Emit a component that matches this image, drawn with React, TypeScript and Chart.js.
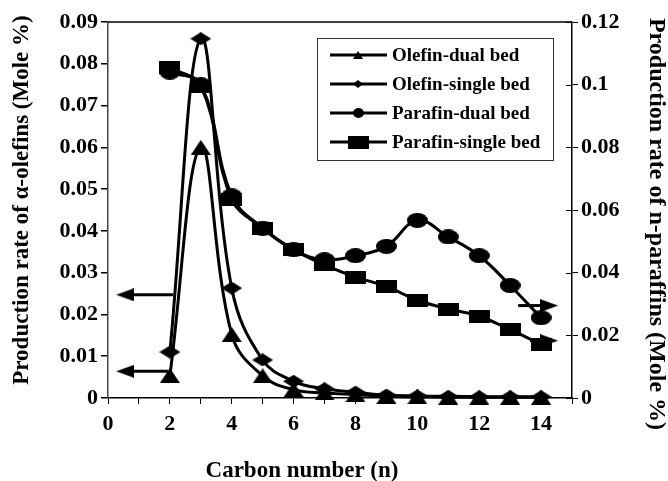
import React, { useEffect, useRef } from 'react';
import { Chart, registerables } from 'chart.js';

Chart.register(...registerables);

// ---- data ----
const carbonNumbers = [2, 3, 4, 5, 6, 7, 8, 9, 10, 11, 12, 13, 14];
const olefinDual = [0.0054, 0.06, 0.0152, 0.0053, 0.002, 0.0012, 0.0008, 0.0004, 0.0003, 0.0002, 0.0002, 0.0002, 0.0002];
const olefinSingle = [0.011, 0.086, 0.0263, 0.0091, 0.004, 0.0022, 0.0014, 0.0007, 0.0005, 0.0004, 0.0003, 0.0003, 0.0003];
const parafinDual = [0.104, 0.1, 0.0645, 0.0542, 0.0473, 0.0441, 0.0454, 0.0484, 0.0567, 0.0514, 0.0454, 0.0359, 0.0256];
const parafinSingle = [0.1055, 0.0995, 0.0635, 0.0542, 0.0473, 0.0425, 0.0386, 0.0356, 0.0312, 0.0284, 0.0261, 0.0218, 0.0171];

const seriesLabels = ['Olefin-dual bed', 'Olefin-single bed', 'Parafin-dual bed', 'Parafin-single bed'];

const leftTicks = [0, 0.01, 0.02, 0.03, 0.04, 0.05, 0.06, 0.07, 0.08, 0.09];
const rightTicks = [0, 0.02, 0.04, 0.06, 0.08, 0.1, 0.12];
const xTicks = [0, 1, 2, 3, 4, 5, 6, 7, 8, 9, 10, 11, 12, 13, 14, 15];
const xLabels = [0, 2, 4, 6, 8, 10, 12, 14];

// axis-indicator arrows: [x, y] pairs (head first)
const arrowLeftUpper = [[0.55, 0.0247], [2.1, 0.0247]];
const arrowLeftLower = [[0.55, 0.0064], [1.95, 0.0064]];
const arrowRightUpper = [[14.26, 0.0295], [13.26, 0.0295]];
const arrowRightLower = [[14.26, 0.0183], [13.64, 0.0183]];

const xTitle = 'Carbon number (n)';
const leftTitle = 'Production rate of \u03b1-olefins (Mole %)';
const rightTitle = 'Production rate of n-paraffins (Mole %)';

const FAMILY = '"Liberation Serif", "Times New Roman", serif';

function mk(w: number, h: number, draw: (g: CanvasRenderingContext2D, w: number, h: number) => void) {
  const c = document.createElement('canvas');
  c.width = w;
  c.height = h;
  const g = c.getContext('2d')!;
  g.fillStyle = '#000';
  draw(g, w, h);
  return c;
}
const tri = (w: number, h: number) => mk(w, h, (g) => { g.beginPath(); g.moveTo(w / 2, 0); g.lineTo(w, h); g.lineTo(0, h); g.closePath(); g.fill(); });
const dia = (w: number, h: number) => mk(w, h, (g) => { g.beginPath(); g.moveTo(w / 2, 0); g.lineTo(w, h / 2); g.lineTo(w / 2, h); g.lineTo(0, h / 2); g.closePath(); g.fill(); });
const ell = (w: number, h: number) => mk(w, h, (g) => { g.beginPath(); g.ellipse(w / 2, h / 2, w / 2, h / 2, 0, 0, Math.PI * 2); g.fill(); });
const sq = (w: number, h: number) => mk(w, h, (g) => { g.fillRect(0, 0, w, h); });
const headL = (w: number, h: number) => mk(w, h, (g) => { g.beginPath(); g.moveTo(0, h / 2); g.lineTo(w, 0); g.lineTo(w, h); g.closePath(); g.fill(); });
const headR = (w: number, h: number) => mk(w, h, (g) => { g.beginPath(); g.moveTo(w, h / 2); g.lineTo(0, 0); g.lineTo(0, h); g.closePath(); g.fill(); });

export default function App() {
  const ref = useRef<HTMLCanvasElement>(null);

  useEffect(() => {
    const canvas = ref.current!;
    const markers = [tri(20, 15), dia(21, 13), ell(21, 15), sq(21, 13)];
    const legendMarkers = [tri(10, 8), dia(10, 8), ell(11, 10), sq(21, 13)];
    const hl = headL(18, 13);
    const hr = headR(18, 13);

    const pts = (arr: number[]) => carbonNumbers.map((x, i) => ({ x, y: arr[i] }));
    const ap = (arr: number[][]) => arr.map(([x, y]) => ({ x, y }));

    const series = [olefinDual, olefinSingle, parafinDual, parafinSingle];
    const axes = ['y', 'y', 'y1', 'y1'];
    const dataSets: any[] = series.map((s, i) => ({
      label: seriesLabels[i],
      data: pts(s),
      yAxisID: axes[i],
      borderColor: '#000',
      backgroundColor: '#000',
      borderWidth: 3,
      tension: 0.4,
      pointStyle: markers[i],
      pointRadius: 6,
      clip: false,
      order: 3 - i,
    }));
    const arrows = [
      { d: arrowLeftUpper, ax: 'y', h: hl },
      { d: arrowLeftLower, ax: 'y', h: hl },
      { d: arrowRightUpper, ax: 'y1', h: hr },
      { d: arrowRightLower, ax: 'y1', h: hr },
    ];
    arrows.forEach((a) => {
      dataSets.push({
        label: '',
        data: ap(a.d),
        yAxisID: a.ax,
        borderColor: '#000',
        borderWidth: 3,
        tension: 0,
        pointStyle: a.h,
        pointRadius: [6, 0],
        clip: false,
        order: 10,
      });
    });

    const tickFont = { family: FAMILY, weight: 'bold' as const, size: 22 };

    const deco = {
      id: 'deco',
      afterDraw(chart: any) {
        const ctx: CanvasRenderingContext2D = chart.ctx;
        const a = chart.chartArea;
        ctx.save();
        // top frame
        ctx.strokeStyle = '#000';
        ctx.lineWidth = 1.5;
        ctx.beginPath();
        ctx.moveTo(a.left, a.top);
        ctx.lineTo(a.right, a.top);
        ctx.stroke();
        // inner halves of right-axis ticks
        ctx.lineWidth = 1;
        const y1 = chart.scales.y1;
        rightTicks.forEach((v) => {
          const py = Math.round(y1.getPixelForValue(v)) + 0.5;
          ctx.beginPath();
          ctx.moveTo(a.right - 6, py);
          ctx.lineTo(a.right, py);
          ctx.stroke();
        });
        // axis titles
        ctx.fillStyle = '#000';
        ctx.textAlign = 'center';
        ctx.textBaseline = 'alphabetic';
        ctx.font = `bold 23px ${FAMILY}`;
        ctx.fillText(xTitle, 302, 477);
        ctx.save();
        ctx.translate(22, 200);
        ctx.rotate(-Math.PI / 2);
        ctx.textBaseline = 'middle';
        ctx.font = `bold 23px ${FAMILY}`;
        ctx.fillText(leftTitle, 0, 0);
        ctx.restore();
        ctx.save();
        ctx.translate(656, 224);
        ctx.rotate(Math.PI / 2);
        ctx.textBaseline = 'middle';
        ctx.font = `bold 24px ${FAMILY}`;
        ctx.fillText(rightTitle, 0, 0);
        ctx.restore();
        // legend
        ctx.lineWidth = 1;
        ctx.strokeStyle = '#333';
        ctx.strokeRect(317.5, 38.5, 236, 122);
        const rows = [55, 84, 113, 142];
        ctx.font = `bold 19px ${FAMILY}`;
        ctx.textAlign = 'left';
        ctx.textBaseline = 'middle';
        rows.forEach((ry, i) => {
          ctx.strokeStyle = '#000';
          ctx.lineWidth = 3;
          ctx.beginPath();
          ctx.moveTo(330, ry);
          ctx.lineTo(387, ry);
          ctx.stroke();
          const m = legendMarkers[i];
          ctx.drawImage(m, Math.round(358 - m.width / 2), Math.round(ry - m.height / 2));
          ctx.fillText(chart.data.datasets[i].label, 392, ry + 1);
        });
        ctx.restore();
      },
    };

    const chart = new Chart(canvas, {
      type: 'line',
      data: { datasets: dataSets },
      options: {
        responsive: false,
        animation: false,
        devicePixelRatio: 1,
        layout: { padding: { top: 22, left: 0, right: 0, bottom: 0 } },
        plugins: { legend: { display: false }, tooltip: { enabled: false } },
        scales: {
          x: {
            type: 'linear',
            min: 0,
            max: 15,
            afterBuildTicks: (s: any) => { s.ticks = xTicks.map((v) => ({ value: v })); },
            afterFit: (s: any) => { s.height = 83; },
            ticks: {
              autoSkip: false,
              maxRotation: 0,
              color: '#000',
              font: tickFont,
              padding: 7,
              callback: (v: any) => (xLabels.includes(Number(v)) ? String(v) : ''),
            },
            grid: { drawOnChartArea: false, drawTicks: true, tickLength: 6, color: '#000', lineWidth: 1 },
            border: { display: true, color: '#000', width: 1.5 },
          },
          y: {
            position: 'left',
            min: 0,
            max: 0.09,
            afterBuildTicks: (s: any) => { s.ticks = leftTicks.map((v) => ({ value: v })); },
            afterFit: (s: any) => { s.width = 108; },
            ticks: { color: '#000', font: tickFont, padding: 3, callback: (v: any) => String(v) },
            grid: { drawOnChartArea: false, drawTicks: true, tickLength: 7, color: '#000', lineWidth: 1.5 },
            border: { display: true, color: '#444', width: 1.5 },
          },
          y1: {
            position: 'right',
            min: 0,
            max: 0.12,
            afterBuildTicks: (s: any) => { s.ticks = rightTicks.map((v) => ({ value: v })); },
            afterFit: (s: any) => { s.width = 96; },
            ticks: { color: '#000', font: tickFont, padding: 3, callback: (v: any) => String(v) },
            grid: { drawOnChartArea: false, drawTicks: true, tickLength: 6, color: '#000', lineWidth: 1 },
            border: { display: true, color: '#000', width: 1.5 },
          },
        },
      },
      plugins: [deco],
    } as any);

    return () => chart.destroy();
  }, []);

  return (
    <div style={{ position: 'absolute', left: 0, top: 0, width: 668, height: 481, background: '#fff' }}>
      <canvas ref={ref} width={668} height={481} style={{ display: 'block' }} />
    </div>
  );
}
